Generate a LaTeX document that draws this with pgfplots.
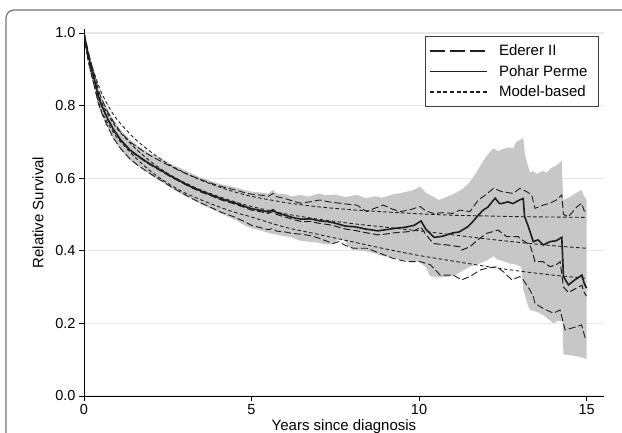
\documentclass[border=0pt]{standalone}
\usepackage{fontspec}
\setmainfont{Liberation Sans}
\usepackage{pgfplots}
\pgfplotsset{compat=1.18}
\usepgfplotslibrary{fillbetween}
\definecolor{band}{RGB}{199,199,199}
\definecolor{gridc}{RGB}{232,232,232}
\definecolor{ln}{RGB}{30,30,30}
\begin{document}
\begin{tikzpicture}
\draw[color=black!55, line width=1.2pt, rounded corners=8pt] (6pt,-30pt) |- (700pt,423pt);
\begin{axis}[
 at={(84pt,37pt)}, anchor=south west,
 scale only axis, width=520pt, height=367pt,
 xmin=0, xmax=15.52, ymin=0, ymax=1.011,
 axis lines*=left,
 axis line style={line width=0.9pt, black},
 xtick={0,5,10,15}, ytick={0,0.2,0.4,0.6,0.8,1.0},
 yticklabel style={/pgf/number format/fixed, /pgf/number format/fixed zerofill, /pgf/number format/precision=1},
 /pgf/number format/assume math mode=true,
 tick style={black, line width=0.9pt},
 major tick length=5pt, tick align=outside,
 ymajorgrids, grid style={draw=gridc, line width=1.3pt},
 ticklabel style={font=\fontsize{14.5}{17}\selectfont},
 xlabel={Years since diagnosis}, ylabel={Relative Survival},
 every axis x label/.style={at={(axis description cs:0.5,0)}, anchor=north, yshift=-20.5pt, font=\fontsize{15}{18}\selectfont},
 every axis y label/.style={at={(axis description cs:-0.0885,0.5)}, rotate=90, anchor=center, font=\fontsize{15}{18}\selectfont},
 legend style={at={(axis description cs:0.990,0.981)}, anchor=north east, draw=black!75, line width=0.8pt, font=\fontsize{15}{18}\selectfont, inner xsep=4pt, inner ysep=6.5pt, row sep=4pt, cells={anchor=west}, /tikz/every odd column/.append style={column sep=9pt}},
 legend cell align=left,
 legend image code/.code={\draw[#1, line width=1.7pt, color=ln] (0pt,0pt) -- (57pt,0pt);},
]
% Pohar Perme CI band
\addplot[name path=ppup, draw=none, forget plot] table {
x y
0 1.0
0.05 0.985
0.1 0.962
0.2 0.925
0.3 0.893
0.43 0.848
0.53 0.823
0.7 0.79
0.875 0.762
1.1 0.732
1.37 0.706
1.6 0.69
1.87 0.673
2.1 0.662
2.37 0.65
2.6 0.638
2.87 0.628
3.16 0.615
3.46 0.603
3.8 0.592
4.1 0.583
4.46 0.576
4.8 0.567
5.0 0.563
5.3 0.56
5.5 0.558
5.64 0.568
5.75 0.558
6.0 0.556
6.2 0.55
6.45 0.554
6.7 0.549
7.0 0.558
7.2 0.553
7.5 0.555
7.8 0.548
8.14 0.554
8.4 0.545
8.7 0.55
8.9 0.546
9.2 0.555
9.5 0.56
9.82 0.567
10.03 0.577
10.2 0.56
10.4 0.55
10.6 0.54
10.8 0.548
11.0 0.555
11.3 0.57
11.52 0.59
11.7 0.615
11.9 0.645
12.05 0.665
12.22 0.682
12.35 0.675
12.5 0.68
12.65 0.685
12.81 0.682
12.9 0.70
13.01 0.705
13.11 0.712
13.16 0.665
13.31 0.615
13.4 0.62
13.51 0.612
13.71 0.62
13.8 0.615
13.95 0.628
14.1 0.635
14.26 0.648
14.3 0.54
14.5 0.548
14.7 0.56
14.85 0.568
14.93 0.55
15.0 0.54
};
\addplot[name path=pplo, draw=none, forget plot] table {
x y
0 1.0
0.05 0.965
0.1 0.938
0.2 0.895
0.3 0.857
0.43 0.802
0.53 0.777
0.7 0.74
0.875 0.708
1.1 0.678
1.37 0.65
1.6 0.634
1.87 0.617
2.1 0.602
2.37 0.587
2.6 0.573
2.87 0.558
3.16 0.545
3.46 0.53
3.8 0.515
4.1 0.502
4.46 0.488
4.8 0.47
5.0 0.462
5.3 0.455
5.6 0.447
6.0 0.44
6.2 0.437
6.45 0.428
6.7 0.425
7.0 0.422
7.2 0.418
7.44 0.418
7.6 0.432
7.75 0.43
7.9 0.412
8.0 0.403
8.3 0.40
8.6 0.395
8.93 0.385
9.2 0.382
9.46 0.375
9.7 0.372
10.0 0.37
10.2 0.355
10.33 0.33
10.6 0.327
11.02 0.33
11.3 0.345
11.52 0.356
11.8 0.365
12.0 0.372
12.22 0.385
12.35 0.375
12.5 0.372
12.7 0.365
12.9 0.362
13.05 0.355
13.11 0.293
13.25 0.25
13.31 0.237
13.5 0.232
13.71 0.223
13.85 0.212
14.01 0.2
14.15 0.207
14.28 0.205
14.31 0.115
14.5 0.112
14.7 0.11
14.9 0.105
15.0 0.101
};
\addplot[band, forget plot] fill between[of=ppup and pplo];
% Model-based
\addplot[ln, line width=0.9pt, dash pattern=on 3.5pt off 2.5pt, smooth, forget plot] table {
x y
0 1.0
0.1 0.955
0.25 0.905
0.5 0.84
0.75 0.795
1 0.76
1.5 0.71
2 0.672
2.5 0.64
3 0.615
3.5 0.594
4 0.577
4.5 0.562
5 0.55
6 0.533
7 0.521
8 0.513
9 0.507
10 0.502
11 0.498
12 0.496
13 0.494
14 0.493
15 0.492
};
\addplot[ln, line width=0.9pt, dash pattern=on 3.5pt off 2.5pt, smooth, forget plot] table {
x y
0 1.0
0.1 0.945
0.25 0.89
0.5 0.815
0.75 0.77
1 0.735
1.5 0.685
2 0.645
2.5 0.613
3 0.588
3.5 0.567
4 0.55
4.5 0.535
5 0.522
6 0.502
7 0.487
8 0.475
9 0.465
10 0.455
11 0.444
12 0.433
13 0.423
14 0.414
15 0.407
};
\addplot[ln, line width=0.9pt, dash pattern=on 3.5pt off 2.5pt, smooth, forget plot] table {
x y
0 1.0
0.1 0.935
0.25 0.875
0.5 0.79
0.75 0.745
1 0.71
1.5 0.66
2 0.618
2.5 0.586
3 0.56
3.5 0.54
4 0.522
4.5 0.506
5 0.493
6 0.465
7 0.445
8 0.425
9 0.405
10 0.387
11 0.372
12 0.357
13 0.344
14 0.333
15 0.324
};
% Ederer II upper
\addplot[ln, line width=0.9pt, dash pattern=on 7pt off 3pt, forget plot] table {
x y
0 1.0
0.05 0.983
0.1 0.96
0.2 0.922
0.3 0.889
0.43 0.842
0.53 0.818
0.7 0.784
0.875 0.756
1.1 0.726
1.37 0.70
1.6 0.685
1.87 0.668
2.1 0.656
2.37 0.643
2.6 0.632
2.87 0.62
3.16 0.608
3.46 0.597
3.8 0.586
4.1 0.577
4.46 0.569
4.8 0.56
5.0 0.556
5.3 0.553
5.5 0.55
5.64 0.558
5.75 0.549
6.0 0.544
6.2 0.538
6.45 0.531
6.75 0.535
7.04 0.54
7.3 0.535
7.64 0.531
7.9 0.528
8.14 0.526
8.44 0.508
8.7 0.518
8.93 0.526
9.2 0.515
9.43 0.508
9.7 0.512
10.03 0.522
10.2 0.51
10.43 0.503
10.7 0.505
11.0 0.503
11.22 0.512
11.52 0.508
11.77 0.54
12.0 0.555
12.22 0.572
12.47 0.563
12.81 0.558
13.01 0.572
13.21 0.563
13.36 0.554
13.46 0.517
13.71 0.526
13.91 0.531
14.1 0.54
14.26 0.554
14.31 0.5
14.46 0.494
14.71 0.521
14.85 0.531
14.93 0.51
15.0 0.508
};
% Ederer II lower
\addplot[ln, line width=0.9pt, dash pattern=on 7pt off 3pt, forget plot] table {
x y
0 1.0
0.05 0.966
0.1 0.937
0.2 0.894
0.3 0.857
0.43 0.805
0.53 0.779
0.7 0.743
0.875 0.711
1.1 0.681
1.37 0.653
1.6 0.636
1.87 0.619
2.1 0.605
2.37 0.59
2.6 0.576
2.87 0.562
3.16 0.547
3.46 0.533
3.8 0.519
4.1 0.506
4.46 0.494
4.8 0.48
5.0 0.47
5.3 0.463
5.5 0.458
5.64 0.462
5.75 0.454
6.0 0.452
6.2 0.448
6.45 0.446
6.75 0.442
7.04 0.434
7.2 0.428
7.44 0.42
7.6 0.425
7.8 0.415
8.04 0.407
8.44 0.407
8.84 0.393
9.23 0.379
9.63 0.37
10.03 0.37
10.33 0.362
10.63 0.333
11.02 0.333
11.27 0.32
11.52 0.329
11.82 0.347
12.02 0.352
12.32 0.356
12.52 0.342
12.77 0.32
13.01 0.329
13.11 0.32
13.31 0.292
13.41 0.274
13.46 0.255
13.71 0.241
14.01 0.228
14.21 0.237
14.31 0.2
14.36 0.182
14.71 0.191
14.85 0.196
14.96 0.159
15.0 0.159
};
% Ederer II estimate
\addplot[ln, line width=1.0pt, dash pattern=on 7pt off 3pt, forget plot] table {
x y
0 1.0
0.05 0.974
0.1 0.948
0.2 0.908
0.3 0.873
0.43 0.823
0.53 0.798
0.7 0.763
0.875 0.733
1.1 0.703
1.37 0.676
1.6 0.66
1.87 0.643
2.1 0.63
2.37 0.616
2.6 0.603
2.87 0.59
3.16 0.576
3.46 0.563
3.8 0.551
4.1 0.54
4.46 0.53
4.8 0.519
5.0 0.512
5.3 0.507
5.5 0.503
5.64 0.508
5.75 0.5
6.0 0.493
6.3 0.485
6.5 0.48
6.75 0.481
7.0 0.476
7.3 0.472
7.5 0.468
7.8 0.46
8.1 0.456
8.4 0.45
8.77 0.444
9.0 0.446
9.3 0.45
9.6 0.452
9.85 0.455
10.06 0.465
10.2 0.445
10.43 0.42
10.83 0.416
11.22 0.411
11.27 0.402
11.52 0.411
11.75 0.43
12.02 0.448
12.36 0.457
12.62 0.439
12.96 0.439
13.01 0.434
13.31 0.416
13.41 0.388
13.46 0.37
13.7 0.37
13.91 0.356
14.1 0.362
14.21 0.37
14.31 0.3
14.46 0.285
14.65 0.295
14.86 0.305
14.93 0.285
15.0 0.275
};
% Pohar Perme estimate
\addplot[ln, line width=1.6pt, forget plot] table {
x y
0 1.0
0.05 0.975
0.1 0.95
0.2 0.91
0.3 0.875
0.43 0.825
0.53 0.80
0.7 0.765
0.875 0.735
1.1 0.705
1.37 0.678
1.6 0.662
1.87 0.645
2.1 0.632
2.37 0.618
2.6 0.605
2.87 0.592
3.16 0.578
3.46 0.566
3.8 0.554
4.1 0.543
4.46 0.533
4.8 0.522
5.0 0.516
5.3 0.511
5.5 0.507
5.64 0.513
5.75 0.505
6.0 0.498
6.3 0.49
6.5 0.487
6.75 0.488
7.0 0.483
7.3 0.48
7.5 0.476
7.8 0.468
8.1 0.466
8.4 0.46
8.77 0.455
9.0 0.458
9.3 0.462
9.6 0.465
9.85 0.47
10.06 0.482
10.2 0.46
10.45 0.437
10.7 0.44
11.0 0.449
11.2 0.452
11.45 0.466
11.6 0.48
11.75 0.496
11.91 0.512
12.05 0.52
12.27 0.545
12.4 0.53
12.51 0.531
12.65 0.535
12.8 0.53
13.0 0.54
13.11 0.544
13.15 0.494
13.25 0.47
13.41 0.425
13.55 0.43
13.71 0.416
13.9 0.425
14.1 0.428
14.26 0.437
14.31 0.329
14.46 0.306
14.65 0.32
14.86 0.333
14.93 0.31
15.0 0.297
};
\addlegendimage{dash pattern=on 15pt off 5pt}
\addlegendentry{Ederer II\kern5pt}
\addlegendimage{solid}
\addlegendentry{Pohar Perme\kern5pt}
\addlegendimage{dash pattern=on 4pt off 2.6pt}
\addlegendentry{Model-based\kern5pt}
\end{axis}
\pgfresetboundingbox
\useasboundingbox (0,0) rectangle (622pt,433pt);
\end{tikzpicture}
\end{document}
